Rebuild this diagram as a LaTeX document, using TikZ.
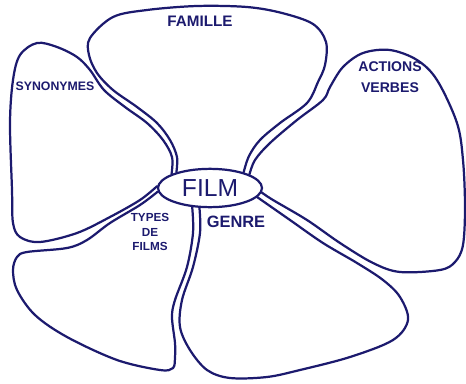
\documentclass[tikz,border=0pt]{standalone}
\usepackage{fontspec}
\setmainfont{Liberation Sans}
\usetikzlibrary{shapes.geometric}
\definecolor{ink}{HTML}{1C1A6E}
\tikzset{
  petal/.style={draw=ink,line width=1.9pt,line join=round,line cap=round},
  hub/.style={ellipse,draw=ink,fill=white,line width=1.9pt,
              minimum width=3.12cm,minimum height=1.15cm,inner sep=0pt,
              text=ink,font=\fontsize{21}{24}\selectfont},
  tag/.style={text=ink,inner sep=0pt,align=center,
              font=\bfseries\fontsize{12}{14}\selectfont}
}

\begin{document}
\begin{tikzpicture}[x=0.03cm,y=-0.03cm]
  \useasboundingbox (0,0) rectangle (466,383);
  \node[hub] (film) at (210,188) {FILM};
  \draw[petal] plot[smooth,tension=0.55] coordinates {(film.155) (177,157) (170,140) (157,123)
    (137,107) (113,90) (97,73) (89,55) (90,38) (113,17) (147,10) (197,6) (247,7) (282,13)
    (313,24) (326,42) (325,65) (318,82) (307,103) (280,123) (260,140) (249,156) (film.25)};
  \draw[petal] plot[smooth,tension=0.55] coordinates {(film.178) (140,200) (110,217) (77,233)
    (40,242) (20,237) (13,223) (12,190) (10,123) (13,80) (20,55) (37,43) (57,47) (77,57)
    (90,70) (104,90) (125,107) (147,123) (163,140) (172,157) (film.160)};
  \draw[petal] plot[smooth,tension=0.55] coordinates {(film.184) (140,205) (110,223) (87,240)
    (67,248) (27,252) (17,257) (13,270) (17,290) (35,315) (67,337) (117,360) (160,370)
    (173,368) (175,357) (175,343) (172,317) (175,300) (187,267) (193,233) (film.227)};
  \draw[petal] plot[smooth,tension=0.55] coordinates {(film.242) (200,233) (193,267) (182,300)
    (180,327) (190,350) (207,370) (230,378) (267,377) (300,370) (350,357) (393,340) (408,320)
    (400,297) (383,280) (357,263) (323,243) (290,220) (film.-11)};
  \draw[petal] plot[smooth,tension=0.55] coordinates {(film.-5) (273,200) (307,220) (340,243)
    (373,263) (400,272) (440,270) (455,262) (463,245) (465,207) (463,160) (457,123) (437,80)
    (417,60) (390,50) (363,53) (343,67) (330,87) (323,100) (297,120) (270,143) (255,160)
    (film.19)};
  \node[tag,font=\bfseries\fontsize{13}{15}\selectfont] (famille) at (200,21) {FAMILLE};
  \node[tag,font=\bfseries\fontsize{10.5}{13}\selectfont] (synonymes) at (55,86) {SYNONYMES};
  \node[tag,font=\bfseries\fontsize{12}{18}\selectfont] (actions) at (390,77) {ACTIONS\\VERBES};
  \node[tag,font=\bfseries\fontsize{14}{16}\selectfont] (genre) at (236,222) {GENRE};
  \node[tag,font=\bfseries\fontsize{10}{12.5}\selectfont] (types) at (150,232) {TYPES\\DE\\FILMS};
\end{tikzpicture}
\end{document}
